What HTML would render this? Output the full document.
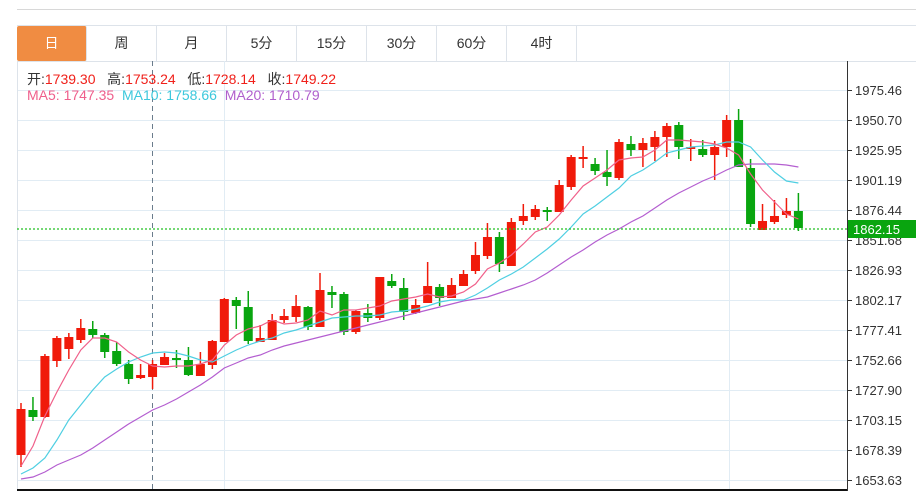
<!DOCTYPE html>
<html><head><meta charset="utf-8"><style>
body{margin:0;width:916px;height:491px;background:#fff;overflow:hidden;font-family:"Liberation Sans","Noto Sans CJK SC",sans-serif;position:relative}
.top{position:absolute;left:17px;top:9px;width:899px;height:1px;background:#d8d8d8}
.tabs{position:absolute;left:17px;top:25px;width:899px;height:35px;border-top:1px solid #dde3ea;border-bottom:1px solid #dde3ea;display:flex}
.tabs div{width:69px;border-right:1px solid #dde3ea;text-align:center;line-height:35px;font-size:14px;color:#333}
.tabs .a{background:#f08c42;color:#fff;border-radius:2px}
.info{position:absolute;left:27px;top:69px;font-size:14px;color:#333;white-space:pre}
.info span{color:#f0201a}
.ma{position:absolute;left:27px;top:87px;font-size:14px;white-space:pre}
</style></head><body>
<div class="top"></div>
<div class="tabs"><div class="a">日</div><div>周</div><div>月</div><div>5分</div><div>15分</div><div>30分</div><div>60分</div><div>4时</div></div>
<svg width="916" height="491" style="position:absolute;left:0;top:0" id="s"></svg>
<div class="info">开:<span>1739.30</span>   高:<span>1753.24</span>   低:<span>1728.14</span>   收:<span>1749.22</span></div>
<div class="ma"><span style="color:#ef5f8c">MA5: 1747.35</span>  <span style="color:#3cc8dc">MA10: 1758.66</span>  <span style="color:#b05fcd">MA20: 1710.79</span></div>
<script>
var s='';
var labs=["1975.46","1950.70","1925.95","1901.19","1876.44","1851.68","1826.93","1802.17","1777.41","1752.66","1727.90","1703.15","1678.39","1653.63"];
for(var i=0;i<14;i++){var y=90+i*30;s+='<line x1="17" x2="847" y1="'+(y+.5)+'" y2="'+(y+.5)+'" stroke="#e1ecf4"/>';
s+='<line x1="847" x2="852" y1="'+(y+.5)+'" y2="'+(y+.5)+'" stroke="#333"/>';
s+='<text x="855" y="'+(y+5)+'" font-size="13" fill="#333" font-family="Liberation Sans">'+labs[i]+'</text>';}
s+='<line x1="17.5" x2="17.5" y1="61" y2="490" stroke="#dde3ea"/>';
s+='<line x1="224.5" x2="224.5" y1="61" y2="490" stroke="#e1ecf4"/><line x1="729.5" x2="729.5" y1="61" y2="490" stroke="#e1ecf4"/>';
s+='<line x1="152.5" x2="152.5" y1="61" y2="490" stroke="#6a7c8c" stroke-dasharray="5,4"/>';
s+='<line x1="847.5" x2="847.5" y1="61" y2="491" stroke="#333"/><line x1="17" x2="847" y1="490" y2="490" stroke="#111" stroke-width="2"/>';
var c=[[409,455,403,467,1],[410,417,397,421,0],[356,417,354,418,1],[338,361,336,367,1],[337,349,333,359,1],[328,340,319,343,1],[329,335,321,338,0],[335,352,333,358,0],[351,364,342,366,0],[364,379,360,384,0],[375,378,364,379,1],[364,377,360,389,1],[357,365,353,365,1],[358,360,350,368,0],[360,375,347,376,0],[364,376,352,376,1],[341,365,340,369,1],[299,342,298,342,1],[300,306,297,329,0],[307,341,291,344,0],[338,342,325,342,1],[320,340,314,340,1],[316,320,309,323,1],[306,317,295,322,1],[307,327,306,330,0],[290,327,273,327,1],[292,295,286,308,0],[294,332,292,335,0],[311,332,310,334,1],[313,318,304,322,0],[277,318,277,320,1],[281,286,274,288,0],[288,312,278,320,0],[305,313,299,314,1],[286,303,262,303,1],[287,298,284,306,0],[285,298,278,298,1],[274,286,270,286,1],[255,271,242,274,1],[237,256,223,259,1],[237,264,232,272,0],[222,266,218,266,1],[216,221,204,225,1],[209,217,205,220,1],[210,212,207,221,0],[185,212,180,212,1],[157,187,155,190,1],[157,159,146,168,1],[164,171,158,175,0],[172,177,150,186,0],[142,178,139,180,1],[144,150,136,156,0],[143,150,138,167,1],[137,147,131,161,1],[126,137,123,157,1],[125,147,122,159,0],[147,149,139,161,1],[149,155,140,157,0],[147,155,141,180,1],[120,147,115,157,1],[120,167,109,167,0],[168,224,159,227,0],[221,230,204,230,1],[216,222,200,224,1],[211,215,198,218,1],[211,228,193,231,0]];
for(var i=0;i<c.length;i++){var x=21+i*11.96,d=c[i],col=d[4]?'#f01a0a':'#09a50f';
s+='<line x1="'+x+'" x2="'+x+'" y1="'+d[2]+'" y2="'+d[3]+'" stroke="'+col+'" stroke-width="1.5"/>';
s+='<rect x="'+(x-4.5)+'" y="'+d[0]+'" width="9" height="'+Math.max(2,d[1]-d[0])+'" fill="'+col+'"/>';}
function pl(a,col){var p=[];for(var i=0;i<a.length;i++)p.push((21+i*11.96).toFixed(1)+','+a[i]);return '<polyline fill="none" stroke="'+col+'" stroke-width="1.2" points="'+p.join(' ')+'"/>';}
var m5=[466,446,416,392,370,350,338,338,342,352,360,366,367,366,366,364,360,345,335,329,326,320,324,323,320,311,315,310,310,308,306,301,299,297,294,297,296,292,284,269,263,255,244,232,227,215,200,186,178,170,160,158,157,150,140,140,141,142,144,148,155,174,190,202,214,219];
var m10=[474,468,458,440,420,405,390,377,369,362,357,353,352,353,356,360,362,356,350,345,341,338,333,330,326,322,318,317,316,316,315,312,311,309,306,302,300,300,295,288,280,274,267,258,249,239,227,214,206,197,188,176,170,162,153,150,147,146,145,142,142,147,160,172,181,183];
var m20=[479,477,472,465,460,455,448,440,432,424,417,410,405,399,392,385,377,368,363,358,355,350,346,343,340,337,334,331,328,325,322,319,316,313,310,307,304,301,299,297,293,289,285,280,273,265,257,250,242,235,229,222,216,208,200,193,187,181,176,170,165,164,164,164,165,167];
s+=pl(m20,'#b45ed0')+pl(m10,'#4fcfe2')+pl(m5,'#f0608a');
s+='<line x1="17" x2="847" y1="229" y2="229" stroke="#22c022" stroke-width="1.3" stroke-dasharray="2,2"/>';
s+='<rect x="848" y="220" width="68" height="18" fill="#09a50f"/><text x="853" y="234" font-size="13" fill="#fff" font-family="Liberation Sans">1862.15</text>';
document.getElementById('s').innerHTML=s;
</script>
</body></html>
